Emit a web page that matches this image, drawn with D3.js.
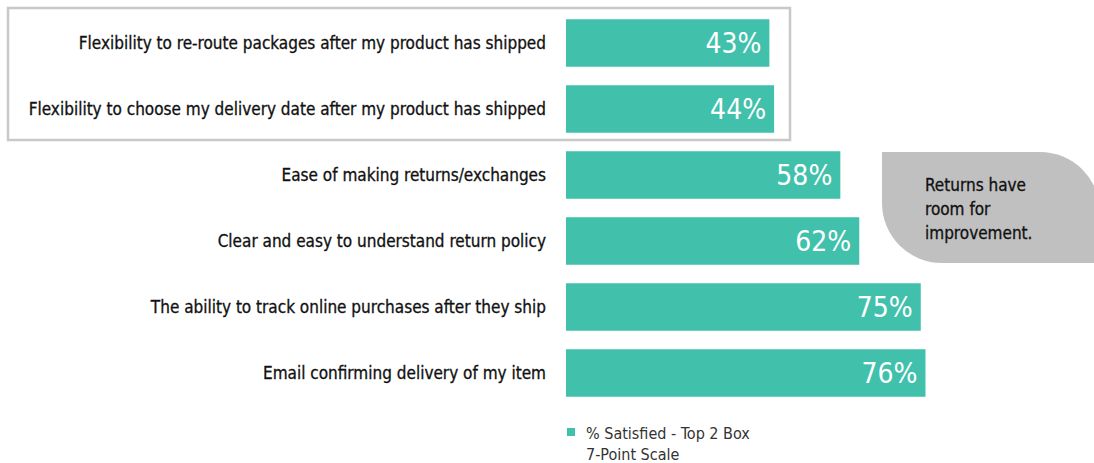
<!DOCTYPE html>
<html>
<head>
<meta charset="utf-8">
<script src="https://cdn.jsdelivr.net/npm/d3@7"></script>
<style>
  body { margin: 0; background: #fff; }
  svg { display: block; }
  text { font-family: "Liberation Sans Narrow", "DejaVu Sans Condensed", "Roboto", sans-serif; }
</style>
</head>
<body>
<div id="chart"></div>
<script>
const categories = [
    "Flexibility to re-route packages after my product has shipped",
    "Flexibility to choose my delivery date after my product has shipped",
    "Ease of making returns/exchanges",
    "Clear and easy to understand return policy",
    "The ability to track online purchases after they ship",
    "Email confirming delivery of my item"
];
const satisfied = [43, 44, 58, 62, 75, 76];
const legendLines = ["% Satisfied - Top 2 Box", "7-Point Scale"];
const calloutLines = ["Returns have", "room for", "improvement."];

const width = 1094, height = 463;
const barColor = "#41c1ab";

const svg = d3.select("#chart")
    .append("svg")
    .attr("width", width)
    .attr("height", height);

const x = d3.scaleLinear().domain([0, 100]).range([566, 566 + 473]);
const y = d3.scaleBand()
    .domain(categories)
    .range([10, 406])
    .paddingInner(0.28)
    .paddingOuter(0.14);

// highlight box around the first two rows
svg.append("rect")
    .attr("x", 8).attr("y", 8)
    .attr("width", 782).attr("height", 132)
    .attr("fill", "none")
    .attr("stroke", "#c8c8c8")
    .attr("stroke-width", 2.5);

const data = categories.map((c, i) => ({ label: c, value: satisfied[i] }));

svg.selectAll("rect.bar")
    .data(data)
    .enter()
    .append("rect")
    .attr("class", "bar")
    .attr("x", x(0))
    .attr("y", d => y(d.label))
    .attr("width", d => x(d.value) - x(0))
    .attr("height", y.bandwidth())
    .attr("fill", barColor);

svg.selectAll("text.cat")
    .data(data)
    .enter()
    .append("text")
    .attr("class", "cat")
    .attr("x", 546)
    .attr("y", d => y(d.label) + y.bandwidth() / 2)
    .attr("dy", "0.35em")
    .attr("text-anchor", "end")
    .attr("font-size", 17)
    .attr("fill", "#111")
    .attr("stroke", "#111")
    .attr("stroke-width", 0.3)
    .text(d => d.label);

svg.selectAll("text.val")
    .data(data)
    .enter()
    .append("text")
    .attr("class", "val")
    .attr("x", d => x(d.value) - 8)
    .attr("y", d => y(d.label) + y.bandwidth() / 2)
    .attr("dy", "0.36em")
    .attr("text-anchor", "end")
    .attr("font-size", 28)
    .attr("fill", "#fff")
    .text(d => d.value + "%");

// callout bubble
const cx0 = 882, cy0 = 152, cx1 = 1100, cy1 = 263, r = 60;
svg.append("path")
    .attr("d", `M${cx0},${cy0} L${cx1 - r},${cy0} A${r},${r} 0 0 1 ${cx1},${cy0 + r}
                L${cx1},${cy1} L${cx0 + r},${cy1} A${r},${r} 0 0 1 ${cx0},${cy1 - r} Z`)
    .attr("fill", "#c0c0c0");

svg.append("g")
    .selectAll("text")
    .data(calloutLines)
    .enter()
    .append("text")
    .attr("x", 925)
    .attr("y", (d, i) => 191 + i * 24)
    .attr("font-size", 17)
    .attr("fill", "#111")
    .attr("stroke", "#111")
    .attr("stroke-width", 0.3)
    .text(d => d);

// legend
svg.append("rect")
    .attr("x", 567).attr("y", 428)
    .attr("width", 8).attr("height", 8)
    .attr("fill", barColor);

svg.append("g")
    .selectAll("text")
    .data(legendLines)
    .enter()
    .append("text")
    .attr("x", 586)
    .attr("y", (d, i) => 439 + i * 21)
    .attr("font-size", 16)
    .attr("fill", "#333")
    .text(d => d);
</script>
</body>
</html>
